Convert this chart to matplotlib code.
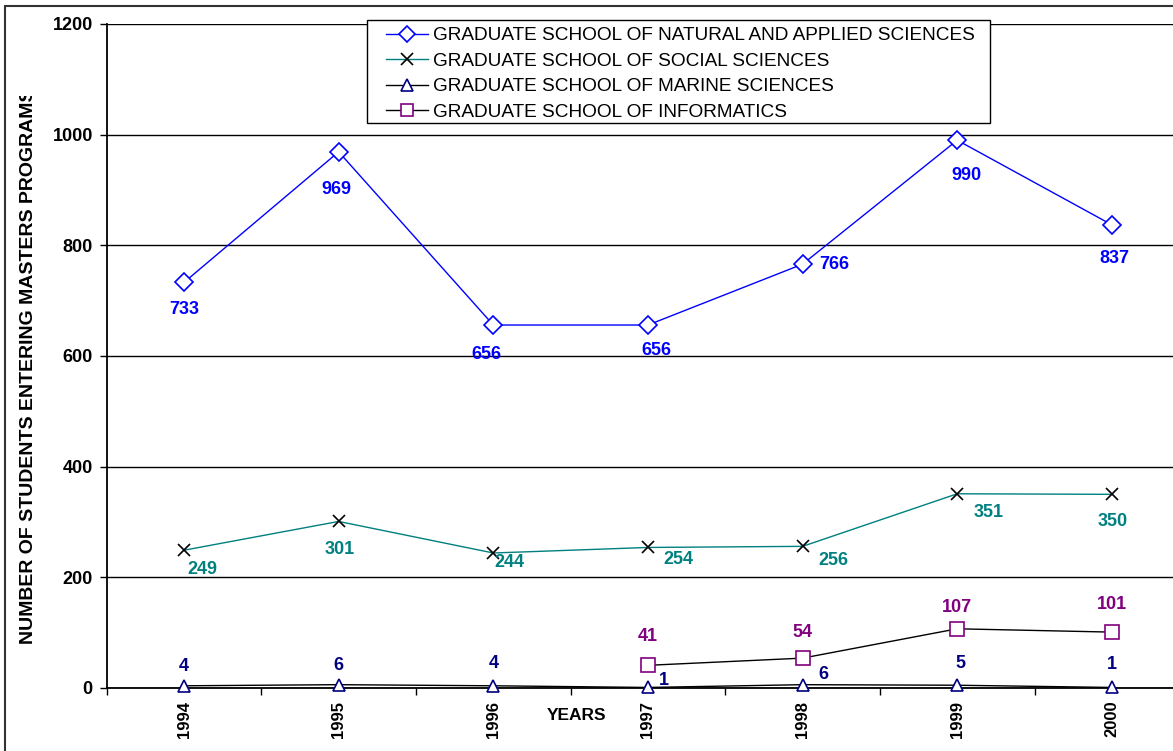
import matplotlib
matplotlib.use('Agg')
import matplotlib.pyplot as plt
from matplotlib.patches import Rectangle
import numpy as np

plt.rcParams['font.family'] = ['Liberation Sans', 'DejaVu Sans']

# data
years = ['1994', '1995', '1996', '1997', '1998', '1999', '2000']
natural = [733, 969, 656, 656, 766, 990, 837]
social = [249, 301, 244, 254, 256, 351, 350]
marine = [4, 6, 4, 1, 6, 5, 1]
info_years = ['1997', '1998', '1999', '2000']
informatics = [41, 54, 107, 101]

names = ['GRADUATE SCHOOL OF NATURAL AND APPLIED SCIENCES',
         'GRADUATE SCHOOL OF SOCIAL SCIENCES',
         'GRADUATE SCHOOL OF MARINE SCIENCES',
         'GRADUATE SCHOOL OF INFORMATICS']

# label offsets in pixels (layout only)
nat_off = [(0, -27), (-2, -38), (-7, -29), (8, -25), (32, 0), (9, -35), (2, -34)]
soc_off = [(18, -19), (1, -28), (16, -10), (30, -12), (31, -14), (31, -19), (1, -27)]
mar_off = [(0, 19), (0, 19), (0, 22), (16, 7), (21, 10), (3, 22), (0, 23)]
inf_off = [(0, 29), (0, 26), (0, 21), (0, 28)]

BLUE = '#0000FF'
TEAL = '#008080'
NAVY = '#000080'
PURPLE = '#800080'

fig = plt.figure(figsize=(11.73, 7.51), dpi=100)
W, H = 1173, 751
ax = fig.add_axes([106.7 / W, 63 / H, 1082.5 / W, 664 / H])

x = np.arange(len(years))
xi = np.array([years.index(y) for y in info_years])

ax.plot(x, natural, color=BLUE, lw=1, marker='D', ms=9, mfc='white', mec=BLUE, mew=1.2,
        label=names[0], zorder=3)
ax.plot(x, social, color=TEAL, lw=1, marker='x', ms=8, mec='black', mew=1.2,
        label=names[1], zorder=3)
ax.plot(x, marine, color='black', lw=1, marker='^', ms=9, mfc='white', mec=NAVY, mew=1.2,
        label=names[2], zorder=3, clip_on=False)
ax.plot(xi, informatics, color='black', lw=1, marker='s', ms=10, mfc='white', mec=PURPLE, mew=1.2,
        label=names[3], zorder=3)

def put_labels(xs, vals, offs, color):
    for xx, v, (dx, dy) in zip(xs, vals, offs):
        ax.annotate(str(v), (xx, v), xytext=(dx, dy), textcoords='offset pixels',
                    ha='center', va='center', color=color, fontsize=13, fontweight='bold',
                    annotation_clip=False)

put_labels(x, natural, nat_off, BLUE)
put_labels(x, social, soc_off, TEAL)
put_labels(x, marine, mar_off, NAVY)
put_labels(xi, informatics, inf_off, PURPLE)

ax.set_xlim(-0.5, 6.5)
ax.set_ylim(0, 1200)
ax.set_yticks(np.arange(0, 1201, 200))
ax.yaxis.grid(True, color='black', lw=1)
ax.set_axisbelow(True)
for s in ['top', 'right']:
    ax.spines[s].set_visible(False)
ax.spines['left'].set_linewidth(1.3)
ax.spines['bottom'].set_linewidth(1.3)

ax.set_xticks(x)
ax.set_xticklabels(years, rotation=90, fontsize=12, fontweight='bold')
ax.tick_params(axis='x', which='major', length=0, pad=9)
ax.set_xticks(np.arange(-0.5, 6.5, 1), minor=True)
ax.tick_params(axis='x', which='minor', length=5, width=1, direction='out')
ax.tick_params(axis='y', length=5, width=1, pad=5, labelsize=13)
for t in ax.get_yticklabels():
    t.set_fontweight('bold')

fig.text(577 / W, 1 - 716 / H, 'YEARS', ha='center', va='center', fontsize=12.5,
         fontweight='bold')

ylab = fig.text(29 / W, 1 - 644 / H, 'NUMBER OF STUDENTS ENTERING MASTERS PROGRAMS',
                rotation=90, ha='center', va='bottom', fontsize=14, fontweight='bold')
clip = Rectangle((0, 0), 1, 1 - 96 / H, transform=fig.transFigure, visible=False)
fig.add_artist(clip)
ylab.set_clip_path(clip)

# outer frame
fig.add_artist(Rectangle((5 / W, -0.1), 1.2, 1 - 6 / H + 0.1, transform=fig.transFigure,
                         fill=False, edgecolor='#333333', lw=1.5))

# legend box drawn separately
fig.add_artist(Rectangle((367 / W, 1 - 123 / H), (990 - 367) / W, 103 / H,
                         transform=fig.transFigure, facecolor='white', edgecolor='black',
                         lw=1, zorder=4))
leg = ax.legend(loc='upper left', bbox_to_anchor=(386 / W, 1 - 27 / H),
                bbox_transform=fig.transFigure, fontsize=13.7, frameon=False,
                handlelength=2.2, handletextpad=0.25, labelspacing=0.43,
                borderpad=0, borderaxespad=0)
leg.set_zorder(5)
leg.remove()
fig.add_artist(leg)
for h in leg.legend_handles:
    h.set_markersize(8)

fig.savefig('out.png', dpi=100)
